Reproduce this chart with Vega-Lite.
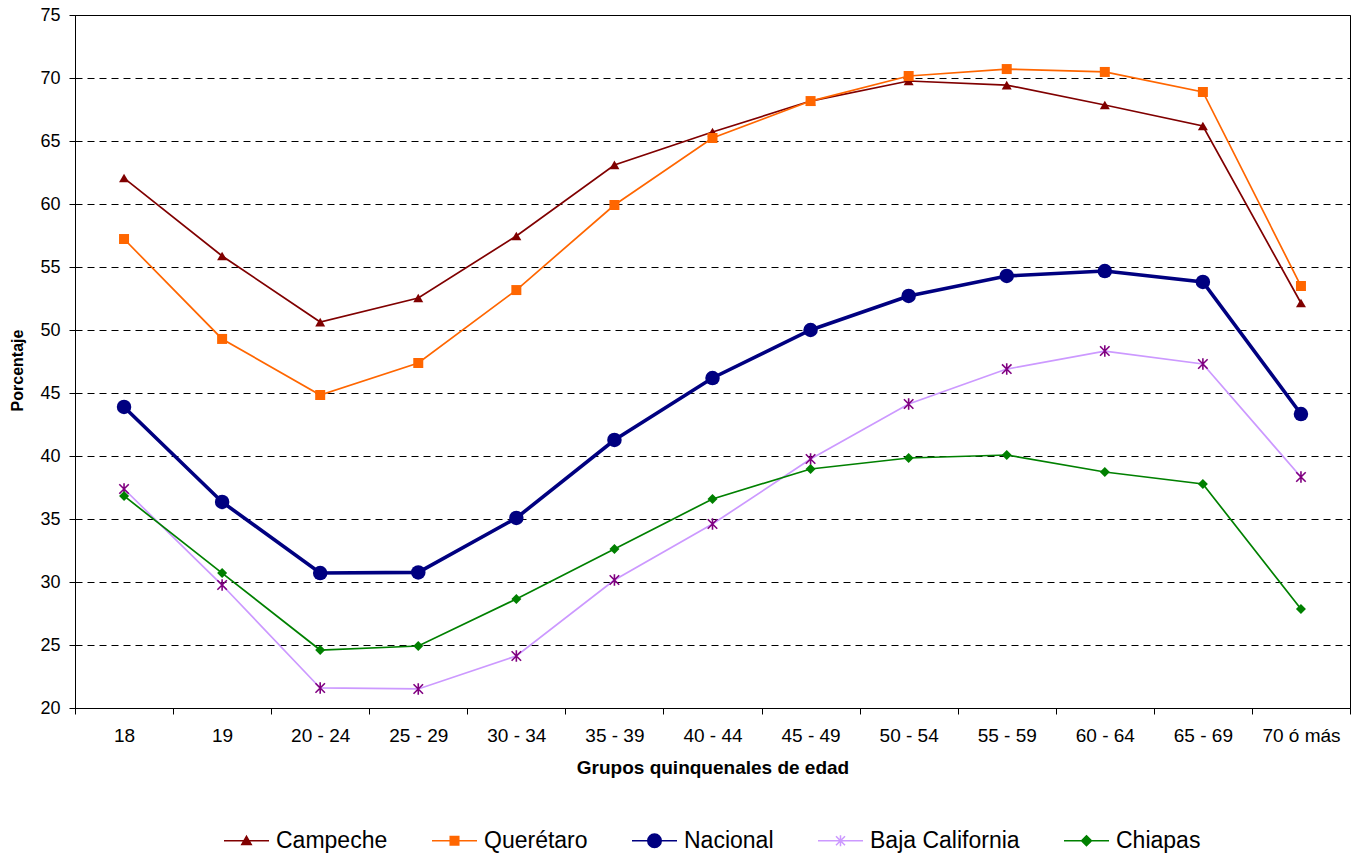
{
 "$schema": "https://vega.github.io/schema/vega-lite/v6.json",
 "width": 1275, "height": 693,
 "autosize": {"type": "none"},
 "padding": {"left": 75, "top": 15, "right": 8, "bottom": 147},
 "background": "white",
 "config": {"view": {"stroke": "#000", "strokeWidth": 1}, "font": "Liberation Sans"},
 "data": {"values": [
  {"Grupo":"18","Serie":"Campeche","Valor":62.06},{"Grupo":"19","Serie":"Campeche","Valor":55.87},{"Grupo":"20 - 24","Serie":"Campeche","Valor":50.63},{"Grupo":"25 - 29","Serie":"Campeche","Valor":52.54},{"Grupo":"30 - 34","Serie":"Campeche","Valor":57.46},{"Grupo":"35 - 39","Serie":"Campeche","Valor":63.1},{"Grupo":"40 - 44","Serie":"Campeche","Valor":65.71},{"Grupo":"45 - 49","Serie":"Campeche","Valor":68.17},{"Grupo":"50 - 54","Serie":"Campeche","Valor":69.76},{"Grupo":"55 - 59","Serie":"Campeche","Valor":69.44},{"Grupo":"60 - 64","Serie":"Campeche","Valor":67.86},{"Grupo":"65 - 69","Serie":"Campeche","Valor":66.19},{"Grupo":"70 ó más","Serie":"Campeche","Valor":52.14},
  {"Grupo":"18","Serie":"Querétaro","Valor":57.22},{"Grupo":"19","Serie":"Querétaro","Valor":49.29},{"Grupo":"20 - 24","Serie":"Querétaro","Valor":44.84},{"Grupo":"25 - 29","Serie":"Querétaro","Valor":47.38},{"Grupo":"30 - 34","Serie":"Querétaro","Valor":53.17},{"Grupo":"35 - 39","Serie":"Querétaro","Valor":59.92},{"Grupo":"40 - 44","Serie":"Querétaro","Valor":65.24},{"Grupo":"45 - 49","Serie":"Querétaro","Valor":68.17},{"Grupo":"50 - 54","Serie":"Querétaro","Valor":70.16},{"Grupo":"55 - 59","Serie":"Querétaro","Valor":70.71},{"Grupo":"60 - 64","Serie":"Querétaro","Valor":70.48},{"Grupo":"65 - 69","Serie":"Querétaro","Valor":68.89},{"Grupo":"70 ó más","Serie":"Querétaro","Valor":53.49},
  {"Grupo":"18","Serie":"Nacional","Valor":43.89},{"Grupo":"19","Serie":"Nacional","Valor":36.35},{"Grupo":"20 - 24","Serie":"Nacional","Valor":30.71},{"Grupo":"25 - 29","Serie":"Nacional","Valor":30.76},{"Grupo":"30 - 34","Serie":"Nacional","Valor":35.08},{"Grupo":"35 - 39","Serie":"Nacional","Valor":41.27},{"Grupo":"40 - 44","Serie":"Nacional","Valor":46.19},{"Grupo":"45 - 49","Serie":"Nacional","Valor":50.0},{"Grupo":"50 - 54","Serie":"Nacional","Valor":52.7},{"Grupo":"55 - 59","Serie":"Nacional","Valor":54.29},{"Grupo":"60 - 64","Serie":"Nacional","Valor":54.68},{"Grupo":"65 - 69","Serie":"Nacional","Valor":53.81},{"Grupo":"70 ó más","Serie":"Nacional","Valor":43.33},
  {"Grupo":"18","Serie":"Baja California","Valor":37.38},{"Grupo":"19","Serie":"Baja California","Valor":29.76},{"Grupo":"20 - 24","Serie":"Baja California","Valor":21.59},{"Grupo":"25 - 29","Serie":"Baja California","Valor":21.51},{"Grupo":"30 - 34","Serie":"Baja California","Valor":24.13},{"Grupo":"35 - 39","Serie":"Baja California","Valor":30.16},{"Grupo":"40 - 44","Serie":"Baja California","Valor":34.6},{"Grupo":"45 - 49","Serie":"Baja California","Valor":39.76},{"Grupo":"50 - 54","Serie":"Baja California","Valor":44.13},{"Grupo":"55 - 59","Serie":"Baja California","Valor":46.9},{"Grupo":"60 - 64","Serie":"Baja California","Valor":48.33},{"Grupo":"65 - 69","Serie":"Baja California","Valor":47.3},{"Grupo":"70 ó más","Serie":"Baja California","Valor":38.33},
  {"Grupo":"18","Serie":"Chiapas","Valor":36.83},{"Grupo":"19","Serie":"Chiapas","Valor":30.71},{"Grupo":"20 - 24","Serie":"Chiapas","Valor":24.6},{"Grupo":"25 - 29","Serie":"Chiapas","Valor":24.92},{"Grupo":"30 - 34","Serie":"Chiapas","Valor":28.65},{"Grupo":"35 - 39","Serie":"Chiapas","Valor":32.62},{"Grupo":"40 - 44","Serie":"Chiapas","Valor":36.59},{"Grupo":"45 - 49","Serie":"Chiapas","Valor":38.97},{"Grupo":"50 - 54","Serie":"Chiapas","Valor":39.84},{"Grupo":"55 - 59","Serie":"Chiapas","Valor":40.08},{"Grupo":"60 - 64","Serie":"Chiapas","Valor":38.73},{"Grupo":"65 - 69","Serie":"Chiapas","Valor":37.78},{"Grupo":"70 ó más","Serie":"Chiapas","Valor":27.86}
 ]},
 "encoding": {
  "x": {"field": "Grupo", "type": "ordinal",
   "scale": {"type": "band", "domain": ["18","19","20 - 24","25 - 29","30 - 34","35 - 39","40 - 44","45 - 49","50 - 54","55 - 59","60 - 64","65 - 69","70 ó más"], "paddingInner": 0, "paddingOuter": 0},
   "axis": {"title": "Grupos quinquenales de edad", "titleFontSize": 19, "titleFontWeight": "bold", "titleColor": "#000", "titlePadding": 13,
    "labelAngle": 0, "labelFontSize": 19, "labelColor": "#000", "labelPadding": 12, "tickBand": "extent", "tickSize": 6, "tickColor": "#000", "domainColor": "#000", "grid": false}},
  "y": {"field": "Valor", "type": "quantitative",
   "scale": {"domain": [20, 75], "nice": false, "zero": false},
   "axis": {"title": "Porcentaje", "titleFontSize": 16, "titleFontWeight": "bold", "titleColor": "#000", "titleX": -58, "titleY": 355, "titleAngle": -90, "titleAlign": "center", "titleBaseline": "middle",
    "values": [20,25,30,35,40,45,50,55,60,65,70,75], "tickSize": 6, "tickColor": "#000", "labelFontSize": 18, "labelColor": "#000", "labelPadding": 9, "domainColor": "#000",
    "grid": true, "gridColor": "#000", "gridDash": [7, 5], "gridWidth": 1}}
 },
 "layer": [
  {"mark": {"type": "point", "filled": true, "size": 1, "opacity": 1},
   "encoding": {
    "color": {"field": "Serie", "type": "nominal", "scale": {"domain": ["Campeche","Querétaro","Nacional","Baja California","Chiapas"], "range": ["#800000","#FF6600","#000080","#CC99FF","#008000"]}},
    "shape": {"field": "Serie", "type": "nominal",
    "scale": {"domain": ["Campeche","Querétaro","Nacional","Baja California","Chiapas"],
     "range": ["M-1,0H1M0,-0.2L0.21,0.17L-0.21,0.17Z", "M-1,0H1M-0.19,-0.19H0.19V0.19H-0.19Z", "M-1,0H1M-0.3,0A0.3,0.3,0,1,0,0.3,0A0.3,0.3,0,1,0,-0.3,0Z", "M-1,0H1M-0.2,-0.2L0.2,0.2M-0.2,0.2L0.2,-0.2M0,-0.24V0.24", "M-1,0H1M0,-0.22L0.22,0L0,0.22L-0.22,0Z"]},
    "legend": {"title": null, "orient": "none", "legendX": 148, "legendY": 802, "direction": "horizontal", "symbolSize": 2025, "labelFontSize": 23, "labelColor": "#000", "labelOffset": 6, "columnPadding": 41, "padding": 0, "symbolOffset": 0, "symbolOpacity": 1,
     "encode": {"symbols": {"update": {
      "stroke": [{"test": "datum.value === 'Campeche'", "value": "#800000"}, {"test": "datum.value === 'Querétaro'", "value": "#FF6600"}, {"test": "datum.value === 'Nacional'", "value": "#000080"}, {"test": "datum.value === 'Chiapas'", "value": "#008000"}, {"value": "#B57EF0"}],
      "strokeWidth": [{"test": "datum.value === 'Nacional'", "value": 4}, {"value": 2}],
      "fillOpacity": {"value": 1}, "strokeOpacity": {"value": 1}, "opacity": {"value": 1}}}}}}}},
  {"transform": [{"filter": "datum.Serie !== 'Nacional'"}],
   "mark": {"type": "line", "strokeWidth": 1.7},
   "encoding": {"color": {"field": "Serie", "type": "nominal"}}},
  {"transform": [{"filter": "datum.Serie === 'Nacional'"}],
   "mark": {"type": "line", "strokeWidth": 3.6, "color": "#000080"}, "encoding": {}},
  {"transform": [{"filter": "datum.Serie === 'Campeche'"}],
   "mark": {"type": "point", "shape": "triangle-up", "filled": true, "color": "#800000", "size": 100, "opacity": 1}},
  {"transform": [{"filter": "datum.Serie === 'Querétaro'"}],
   "mark": {"type": "point", "shape": "square", "filled": true, "color": "#FF6600", "size": 100, "opacity": 1}},
  {"transform": [{"filter": "datum.Serie === 'Nacional'"}],
   "mark": {"type": "point", "shape": "circle", "filled": true, "color": "#000080", "size": 210, "opacity": 1}},
  {"transform": [{"filter": "datum.Serie === 'Baja California'"}],
   "mark": {"type": "point", "shape": "M-1,-1L1,1M-1,1L1,-1M0,-1.2V1.2", "filled": false, "color": "#800080", "size": 90, "strokeWidth": 1.6, "opacity": 1}},
  {"transform": [{"filter": "datum.Serie === 'Chiapas'"}],
   "mark": {"type": "point", "shape": "diamond", "filled": true, "color": "#008000", "size": 100, "opacity": 1}}
 ]
}
